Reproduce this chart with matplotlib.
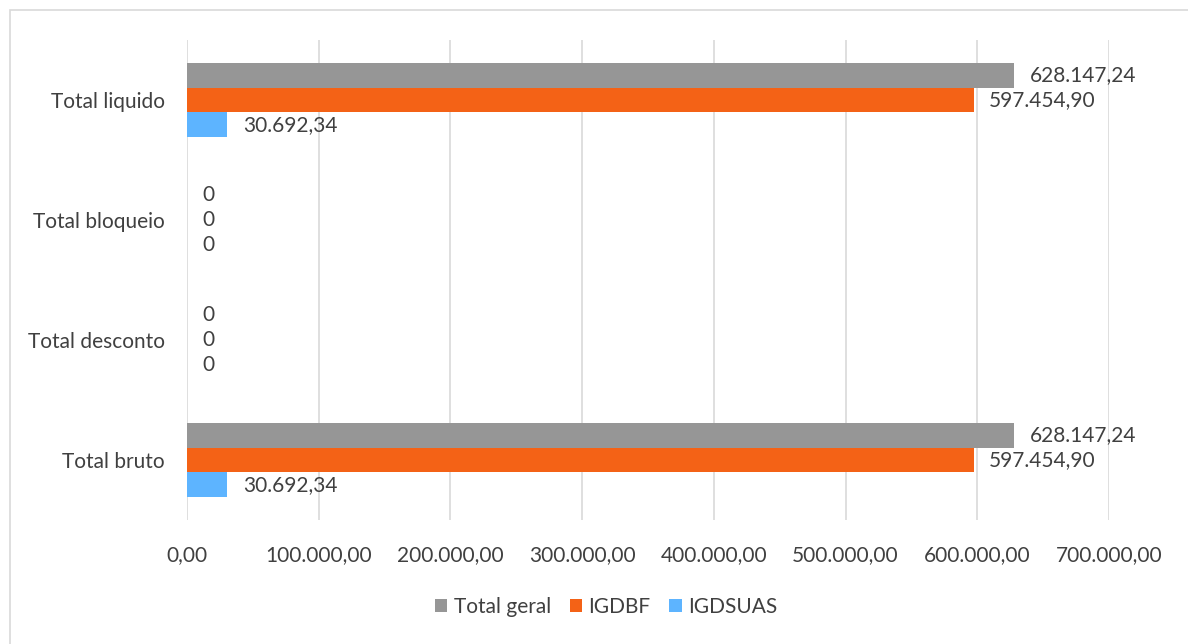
import matplotlib
matplotlib.use("Agg")
import matplotlib.pyplot as plt
from matplotlib.patches import Rectangle
import numpy as np

categories = ["Total bruto", "Total desconto", "Total bloqueio", "Total liquido"]
series_names = ["Total geral", "IGDBF", "IGDSUAS"]
total_geral = [628147.24, 0, 0, 628147.24]
igdbf = [597454.90, 0, 0, 597454.90]
igdsuas = [30692.34, 0, 0, 30692.34]
xticks = [0, 100000, 200000, 300000, 400000, 500000, 600000, 700000]

colors = ["#969696", "#F46216", "#5DB4FF"]
txt = "#404040"
FONT = "Lato"
FS = 15
plt.rcParams['font.family'] = [FONT, 'DejaVu Sans']

def fmt(v):
    if v == 0:
        return "0"
    s = f"{v:,.2f}"
    return s.replace(",", "X").replace(".", ",").replace("X", ".")

def fmt_tick(v):
    s = f"{v:,.2f}"
    return s.replace(",", "X").replace(".", ",").replace("X", ".")

W, H = 1188, 644
fig = plt.figure(figsize=(W / 100, H / 100), dpi=100)
fig.patches.append(Rectangle((10 / W, -0.1), 1.2, 1 - 10 / H + 0.1, transform=fig.transFigure,
                             fill=False, edgecolor="#D9D9D9", linewidth=1.2))
ax = fig.add_axes([187 / W, 1 - 520 / H, (1109 - 187) / W, 480 / H])

y = np.arange(len(categories))
bh = 0.205
data = [total_geral, igdbf, igdsuas]
offsets = [bh, 0, -bh]
for vals, off, c, name in zip(data, offsets, colors, series_names):
    bars = ax.barh(y + off, vals, height=bh, color=c, label=name, zorder=3)
    labels = [fmt(v) for v in vals]
    ax.bar_label(bars, labels=labels, padding=11, fontsize=FS, color=txt)

ax.set_xlim(0, 700000)
ax.set_ylim(-0.5, len(categories) - 0.5)
ax.set_xticks(xticks)
ax.set_xticklabels([fmt_tick(v) for v in xticks], fontsize=FS, color=txt)
ax.set_yticks(y)
ax.set_yticklabels(categories, fontsize=FS, color=txt)
ax.tick_params(axis='x', length=0, pad=18)
ax.tick_params(axis='y', length=0, pad=16)
ax.grid(axis='x', color="#D9D9D9", linewidth=1.2, zorder=0)
for s in ax.spines.values():
    s.set_visible(False)

leg = fig.legend(loc="center", bbox_to_anchor=(606 / W, 1 - 607 / H), ncol=3, frameon=False,
                 fontsize=FS, handlelength=0.6, handleheight=0.6, handletextpad=0.3,
                 columnspacing=0.9)
for t in leg.get_texts():
    t.set_color(txt)

fig.savefig("out.png", dpi=100)
